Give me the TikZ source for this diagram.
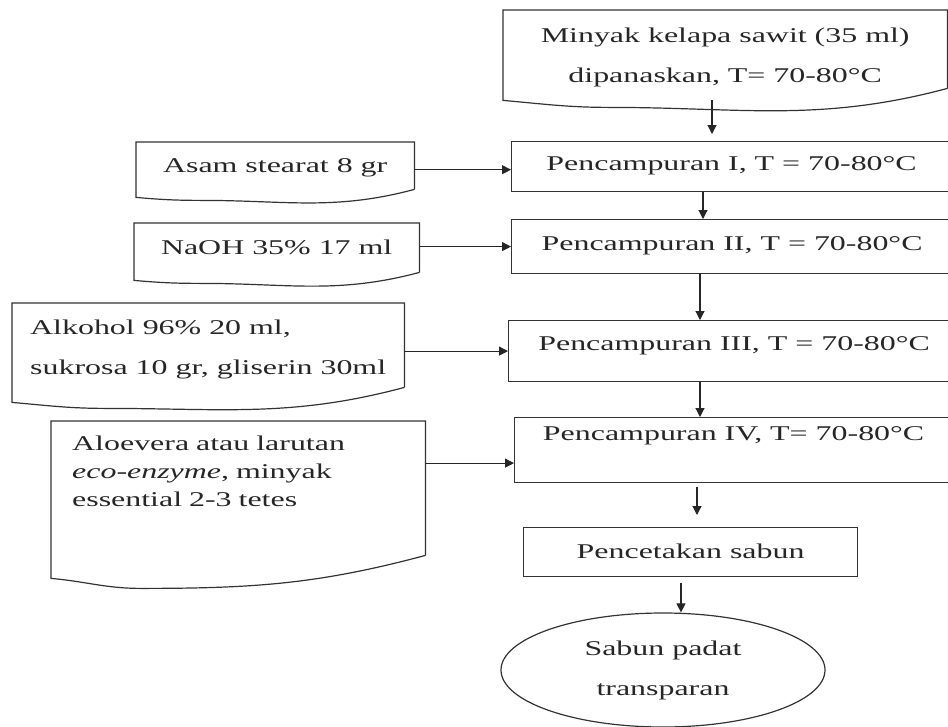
\documentclass[tikz,border=0pt]{standalone}
\usepackage{fontspec}
\setmainfont{Liberation Serif}[FakeStretch=1.52]
\usetikzlibrary{arrows.meta,calc,shapes.geometric}

% outline of a document box: straight top and sides, wavy bottom
\newcommand{\docoutline}[3]{%
  \draw[line] ([yshift=#2pt]#1.south east) -- (#1.north east) -- (#1.north west) -- (#1.south west)
    to[out=-5,in=180] ($(#1.south west)!0.24!(#1.south east)+(0,#3)$)
    to[out=0,in=195] ([yshift=#2pt]#1.south east);}

\begin{document}
\begin{tikzpicture}[
    x=1pt, y=-1pt,
    font=\fontsize{21}{40}\selectfont,
    every node/.style={text=black!85},
    line/.style={draw=black!80, line width=1.2pt},
    pad/.style 2 args={text height=#1pt, text depth=#2pt},
    docbox/.style={inner xsep=0pt, inner ysep=0pt, anchor=north west},
    procbox/.style={line, inner xsep=0pt, inner ysep=0pt, anchor=north west},
    endbox/.style={line, ellipse, inner sep=0pt, minimum width=324pt, minimum height=114pt, align=center},
    arrow/.style={-{Triangle[length=9pt,width=9pt]}, line width=1.1pt, black!85}
]
\useasboundingbox (0,0) rectangle (948,726);

% Inputs (document shapes)
\node[docbox, pad={72}{18}, minimum width=444pt, align=center] (minyak) at (503,10)
  {Minyak kelapa sawit (35 ml)\\dipanaskan, T= 70-80°C};
\node[docbox, pad={30}{25}, minimum width=278pt] (asam) at (136,142) {Asam stearat 8 gr};
\node[docbox, pad={31}{26}, minimum width=285pt] (naoh) at (134,223) {NaOH 35\% 17 ml};
\node[docbox, pad={71}{28}, minimum width=392pt, align=left] (alkohol) at (12,303)
  {Alkohol 96\% 20 ml,\\sukrosa 10 gr, gliserin 30ml};
\node[docbox, pad={29}{128}, inner xsep=21pt, text width=332pt, align=left,
  font=\fontsize{21}{28}\selectfont] (aloe) at (51,421)
  {Aloevera atau larutan\\\emph{eco-enzyme}, minyak\\essential 2-3 tetes};

\docoutline{minyak}{12}{7}
\docoutline{asam}{8}{3}
\docoutline{naoh}{8}{3}
\docoutline{alkohol}{15}{6}
\docoutline{aloe}{23}{10}

% Process steps
\node[procbox, pad={29}{21}, minimum width=440pt] (mix1) at (511,141) {Pencampuran I, T = 70-80°C};
\node[procbox, pad={31}{23}, minimum width=441pt] (mix2) at (511,219) {Pencampuran II, T = 70-80°C};
\node[procbox, pad={30}{31}, minimum width=451pt] (mix3) at (508,320) {Pencampuran III, T = 70-80°C};
\node[procbox, pad={23}{42}, minimum width=438pt] (mix4) at (514,417) {Pencampuran IV, T= 70-80°C};
\node[procbox, pad={31}{18}, minimum width=334pt] (cetak) at (523,527) {Pencetakan sabun};

% Result
\node[endbox] (sabun) at (663,670) {Sabun padat\\transparan};

% Arrows
\draw[arrow, shorten >=7pt] (minyak.south -| 712,0) -- (mix1.north -| 712,0);
\draw[arrow] (mix1.south -| 703,0) -- (mix2.north -| 703,0);
\draw[arrow] (mix2.south -| 700,0) -- (mix3.north -| 700,0);
\draw[arrow] (mix3.south -| 700,0) -- (mix4.north -| 700,0);
\draw[arrow, shorten <=4pt, shorten >=12pt] (mix4.south -| 697,0) -- (cetak.north -| 697,0);
\draw[arrow, shorten <=6pt] (cetak.south -| 681,0) -- (sabun.north -| 681,0);

\draw[arrow] (asam.east) -- (asam.east -| mix1.west);
\draw[arrow] (mix2.west -| naoh.east) -- (mix2.west);
\draw[arrow] (mix3.west -| alkohol.east) -- (mix3.west);
\draw[arrow] ([yshift=-13pt]mix4.west -| aloe.east) -- ([yshift=-13pt]mix4.west);

\end{tikzpicture}
\end{document}
